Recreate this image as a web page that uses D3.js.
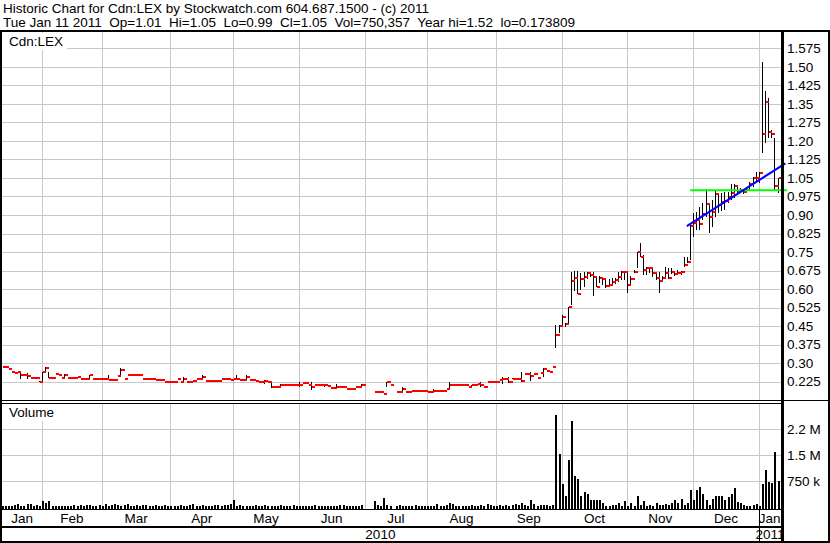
<!DOCTYPE html>
<html><head><meta charset="utf-8">
<script src="https://cdn.jsdelivr.net/npm/d3@7"></script>
<style>
body{margin:0;background:#fff}
svg{display:block}
text{font-family:Arial,"Liberation Sans",sans-serif;font-size:13.5px;fill:#000}
</style>
</head><body>
<svg id="c" width="830" height="543"></svg>
<script>
// ---------------- data ----------------
const titleLine1 = "Historic Chart for Cdn:LEX by Stockwatch.com 604.687.1500 - (c) 2011";
const titleLine2 = "Tue Jan 11 2011  Op=1.01  Hi=1.05  Lo=0.99  Cl=1.05  Vol=750,357  Year hi=1.52  lo=0.173809";
const symbolLabel = "Cdn:LEX";
const volumeLabel = "Volume";

const monthLabels = ["Jan","Feb","Mar","Apr","May","Jun","Jul","Aug","Sep","Oct","Nov","Dec","Jan"];
const monthBars   = [13,19,22,20,21,21,20,22,21,21,21,21,7];
const yearLabels  = ["2010","2011"];
const yearMonths  = [12,1];

const closes = [
 0.286,0.286,0.277,0.263,0.259,0.266,0.252,0.252,0.247,0.240,0.240,0.240,0.222,
 0.266,0.279,0.240,0.240,0.257,0.252,0.240,0.252,0.240,0.240,0.240,0.243,0.236,0.236,0.236,0.252,0.236,0.236,0.236,
 0.236,0.236,0.232,0.232,0.232,0.247,0.272,0.236,0.252,0.252,0.252,0.252,0.252,0.236,0.236,0.236,0.236,0.232,0.232,0.232,0.222,0.222,
 0.222,0.222,0.236,0.222,0.236,0.222,0.222,0.228,0.236,0.236,0.243,0.228,0.228,0.228,0.228,0.228,0.236,0.236,0.236,0.230,
 0.236,0.236,0.232,0.232,0.243,0.232,0.232,0.226,0.222,0.222,0.226,0.222,0.205,0.205,0.205,0.213,0.213,0.213,0.213,0.213,0.213,
 0.211,0.221,0.221,0.213,0.202,0.213,0.213,0.213,0.211,0.206,0.200,0.198,0.205,0.202,0.202,0.195,0.195,0.195,0.202,0.202,0.211,
 null,null,null,0.184,0.184,0.184,0.174,0.222,0.213,null,0.184,0.184,0.195,0.184,0.184,0.186,0.186,0.186,0.186,0.186,
 0.184,0.184,0.186,0.186,0.186,0.186,0.195,0.211,0.211,0.211,0.213,0.213,0.211,0.202,0.213,0.213,0.217,0.213,0.205,0.225,0.225,0.225,
 0.225,0.230,0.236,0.236,0.222,0.236,0.236,0.236,0.228,0.257,0.257,0.247,0.257,0.240,0.262,0.277,0.270,0.263,0.283,0.414,0.450,
 0.488,0.459,0.526,0.634,0.643,0.580,0.640,0.650,0.664,0.656,0.650,0.610,0.645,0.640,0.612,0.617,0.627,0.636,0.650,0.669,0.669,
 0.617,0.641,0.670,0.749,0.729,0.677,0.687,0.685,0.664,0.643,0.634,0.643,0.664,0.645,0.668,0.660,0.664,0.668,0.697,0.711,0.855,
 0.866,0.880,0.862,0.904,0.945,0.893,0.913,0.985,0.940,0.953,0.958,0.971,0.990,1.017,0.998,1.000,0.995,1.000,1.025,1.050,1.049,
 1.071,1.228,1.359,1.237,1.228,1.017,1.050
];
const highs = [
 0.286,0.286,0.277,0.263,0.259,0.266,0.259,0.252,0.259,0.240,0.240,0.240,0.226,
 0.266,0.286,0.263,0.240,0.257,0.252,0.240,0.257,0.240,0.240,0.240,0.243,0.236,0.236,0.236,0.252,0.236,0.236,0.236,
 0.236,0.236,0.252,0.232,0.232,0.247,0.279,0.236,0.252,0.252,0.252,0.252,0.252,0.236,0.236,0.236,0.236,0.232,0.232,0.232,0.222,0.222,
 0.222,0.222,0.236,0.222,0.243,0.222,0.222,0.228,0.236,0.236,0.252,0.228,0.228,0.228,0.228,0.228,0.236,0.236,0.236,0.230,
 0.236,0.252,0.232,0.232,0.252,0.232,0.232,0.226,0.222,0.222,0.232,0.222,0.222,0.205,0.205,0.215,0.213,0.213,0.213,0.213,0.213,
 0.222,0.221,0.221,0.213,0.222,0.213,0.213,0.213,0.213,0.206,0.200,0.198,0.215,0.202,0.202,0.195,0.195,0.195,0.202,0.202,0.215,
 null,null,null,0.184,0.184,0.184,0.174,0.225,0.213,null,0.184,0.184,0.205,0.184,0.184,0.186,0.186,0.186,0.186,0.186,
 0.184,0.184,0.195,0.186,0.186,0.186,0.195,0.222,0.211,0.211,0.213,0.213,0.211,0.202,0.213,0.213,0.217,0.225,0.205,0.225,0.225,0.225,
 0.225,0.230,0.245,0.236,0.245,0.240,0.236,0.236,0.266,0.257,0.257,0.266,0.257,0.240,0.262,0.279,0.270,0.263,0.283,0.454,0.454,
 0.494,0.462,0.529,0.670,0.674,0.674,0.664,0.670,0.670,0.660,0.670,0.650,0.653,0.643,0.640,0.640,0.643,0.643,0.670,0.674,0.674,
 0.670,0.653,0.677,0.751,0.785,0.738,0.691,0.691,0.684,0.664,0.670,0.653,0.691,0.684,0.687,0.674,0.677,0.674,0.729,0.729,0.860,
 0.907,0.913,0.934,0.947,1.004,0.940,0.961,0.999,0.981,0.990,0.994,0.994,1.025,1.025,1.021,1.010,1.005,1.005,1.035,1.055,1.075,
 1.075,1.520,1.403,1.374,1.245,1.210,1.050
];
const lows = [
 0.286,0.286,0.277,0.263,0.259,0.266,0.236,0.252,0.236,0.240,0.240,0.236,0.222,
 0.222,0.266,0.240,0.240,0.257,0.252,0.240,0.240,0.240,0.240,0.240,0.243,0.236,0.236,0.236,0.236,0.236,0.236,0.236,
 0.236,0.236,0.232,0.232,0.232,0.247,0.247,0.236,0.252,0.252,0.252,0.252,0.252,0.236,0.236,0.236,0.236,0.232,0.232,0.232,0.222,0.222,
 0.222,0.222,0.236,0.222,0.226,0.222,0.222,0.228,0.236,0.236,0.236,0.228,0.228,0.228,0.228,0.222,0.236,0.236,0.236,0.230,
 0.236,0.232,0.232,0.232,0.232,0.232,0.232,0.226,0.222,0.222,0.215,0.222,0.198,0.205,0.205,0.205,0.213,0.213,0.213,0.213,0.213,
 0.205,0.221,0.221,0.213,0.190,0.213,0.213,0.213,0.205,0.206,0.200,0.198,0.200,0.202,0.202,0.195,0.195,0.195,0.202,0.202,0.205,
 null,null,null,0.184,0.184,0.184,0.174,0.202,0.213,null,0.184,0.184,0.184,0.184,0.184,0.186,0.186,0.186,0.186,0.186,
 0.184,0.184,0.184,0.186,0.186,0.186,0.195,0.190,0.211,0.211,0.213,0.213,0.211,0.202,0.198,0.213,0.217,0.205,0.205,0.225,0.225,0.225,
 0.225,0.230,0.216,0.236,0.220,0.236,0.236,0.236,0.225,0.257,0.257,0.228,0.257,0.240,0.262,0.245,0.270,0.263,0.283,0.360,0.421,
 0.447,0.447,0.462,0.535,0.594,0.580,0.596,0.610,0.640,0.650,0.572,0.610,0.624,0.617,0.605,0.610,0.617,0.620,0.630,0.636,0.636,
 0.583,0.620,0.667,0.684,0.729,0.657,0.657,0.665,0.650,0.636,0.583,0.630,0.644,0.640,0.660,0.653,0.660,0.657,0.691,0.704,0.718,
 0.812,0.839,0.839,0.880,0.893,0.826,0.853,0.893,0.907,0.915,0.920,0.947,0.961,0.968,0.990,0.990,0.985,0.990,1.000,1.015,1.035,
 1.030,1.150,1.190,1.210,1.210,1.000,0.990
];
const volumes = [
 30,20,40,20,60,100,40,30,80,90,40,60,20,
 170,120,180,40,30,20,40,30,20,20,60,30,50,40,60,70,30,40,60,
 40,90,30,60,80,60,40,50,90,30,40,60,20,50,70,30,40,60,40,20,50,30,
 20,40,30,60,20,30,50,90,20,30,60,40,30,20,50,60,40,70,60,90,
 200,40,60,30,30,20,40,50,20,30,60,20,40,30,20,60,40,30,20,50,40,
 30,20,40,20,30,60,30,20,40,30,20,20,30,60,50,30,40,20,30,40,50,
 0,0,0,160,60,20,260,70,40,0,40,60,30,20,40,30,50,40,30,20,
 30,40,20,80,40,30,70,120,90,40,30,20,40,30,60,40,30,50,40,80,60,30,
 40,60,30,50,40,70,90,60,120,60,40,200,80,40,60,60,50,40,50,2650,1530,
 663,317,1360,2480,894,800,317,433,375,200,200,200,200,107,29,29,45,45,124,20,182,
 15,124,29,317,45,182,29,45,29,107,45,45,80,45,107,200,124,240,45,124,490,
 200,490,586,375,200,60,240,317,317,317,200,300,375,548,150,120,60,30,20,50,80,
 30,663,1070,730,683,1600,750
].map(v => v * 1000);

const priceTicks = [0.225,0.30,0.375,0.45,0.525,0.60,0.675,0.75,0.825,0.90,0.975,1.05,1.125,1.20,1.275,1.35,1.425,1.50,1.575];
const priceTickLabels = ["0.225","0.30","0.375","0.45","0.525","0.60","0.675","0.75","0.825","0.90","0.975","1.05","1.125","1.20","1.275","1.35","1.425","1.50","1.575"];
const volumeTicks = [750000,1500000,2250000];
const volumeTickLabels = ["750 k","1.5 M","2.2 M"];

// trend lines: [bar index, price]
const blueTrend  = [[219.0,0.855],[250.5,1.109]];
const greenLevel = [[220.1,1.000],[251.0,1.000]];

// ---------------- layout ----------------
const svg = d3.select("#c");
const N = closes.length;
const L = 2, R = 781;
const pTop = 32, pBot = 400, vTop = 403, vBot = 509;

const x = d3.scaleLinear().domain([0, N]).range([1.5, 780.7]);
const y = d3.scaleLinear().domain([0.151, 1.641]).range([pBot, pTop]);
const yV = d3.scaleLinear().domain([0, 3000000]).range([507, vTop]);

svg.append("rect").attr("width",830).attr("height",543).attr("fill","#fff");

const monthStart = [];
let acc = 0;
monthBars.forEach(n => { monthStart.push(acc); acc += n; });

const grid = svg.append("g").attr("stroke","#c8c8c8").attr("stroke-width",1).attr("shape-rendering","crispEdges");
grid.selectAll(".hp").data(priceTicks).join("line").attr("class","hp")
  .attr("x1",L).attr("x2",R).attr("y1",d=>Math.round(y(d))+0.5).attr("y2",d=>Math.round(y(d))+0.5);
grid.selectAll(".hv").data(volumeTicks).join("line").attr("class","hv")
  .attr("x1",L).attr("x2",R).attr("y1",d=>Math.round(yV(d))+0.5).attr("y2",d=>Math.round(yV(d))+0.5);
const mg = monthStart.slice(1);
grid.selectAll(".vp").data(mg).join("line").attr("class","vp")
  .attr("x1",d=>Math.round(x(d))+0.5).attr("x2",d=>Math.round(x(d))+0.5).attr("y1",pTop).attr("y2",pBot);
grid.selectAll(".vv").data(mg).join("line").attr("class","vv")
  .attr("x1",d=>Math.round(x(d))+0.5).attr("x2",d=>Math.round(x(d))+0.5).attr("y1",vTop).attr("y2",vBot);

function panelLabel(txt, tx, ty){
  const g = svg.append("g");
  const t = g.append("text").attr("x",tx).attr("y",ty).text(txt);
  const bb = t.node().getBBox();
  g.insert("rect","text").attr("x",L).attr("y",bb.y-1).attr("width",bb.x+bb.width+4-L).attr("height",bb.height+2).attr("fill","#fff");
}
panelLabel(symbolLabel, 9, 46);
panelLabel(volumeLabel, 9, 417);

// price bars
const bars = d3.range(N).filter(i => closes[i] !== null);
svg.append("g").attr("shape-rendering","crispEdges").selectAll("rect").data(bars).join("rect")
  .attr("x", i => Math.round(x(i))).attr("width", 1)
  .attr("y", i => y(highs[i])).attr("height", i => Math.max(0, y(lows[i]) - y(highs[i])))
  .attr("fill","#000");
svg.append("g").attr("shape-rendering","crispEdges").selectAll("rect").data(bars).join("rect")
  .attr("x", i => Math.round(x(i)) + 1).attr("width", i => Math.round(x(i+1)) + 1 - (Math.round(x(i)) + 1))
  .attr("y", i => Math.round(y(closes[i])) - 1).attr("height", 2)
  .attr("fill","#ff0000");

// volume bars
svg.append("g").attr("shape-rendering","crispEdges").selectAll("rect").data(d3.range(N).filter(i => volumes[i] > 0)).join("rect")
  .attr("x", i => Math.round(x(i))).attr("width", 2)
  .attr("y", i => Math.round(yV(volumes[i]))).attr("height", i => vBot - Math.round(yV(volumes[i])))
  .attr("fill","#000");

// trend lines
const tl = d3.line().x(d => x(d[0])).y(d => y(d[1]));
svg.append("path").attr("d", tl(greenLevel)).attr("stroke","#00ff00").attr("stroke-width",2).attr("fill","none");
svg.append("path").attr("d", tl(blueTrend)).attr("stroke","#0000ff").attr("stroke-width",2).attr("fill","none");

// frame lines
const fr = svg.append("g").attr("stroke","#000").attr("shape-rendering","crispEdges").attr("fill","none");
function hl(x1,x2,yy,w){ fr.append("line").attr("x1",x1).attr("x2",x2).attr("y1",yy).attr("y2",yy).attr("stroke-width",w); }
function vl(xx,y1,y2,w){ fr.append("line").attr("x1",xx).attr("x2",xx).attr("y1",y1).attr("y2",y2).attr("stroke-width",w); }
hl(0,830,31,2);
hl(0,830,400.5,1);
hl(0,R,403,1);
hl(0,R,509.5,1);
hl(0,R,527,2);
hl(0,830,542,2);
vl(1,31,543,2);
vl(829,31,543,2);
vl(782,31,543,3);
vl(Math.round(x(monthStart[12]))+0.5,509,541,1);

// title
svg.append("text").attr("x",3).attr("y",13).text(titleLine1);
svg.append("text").attr("x",3).attr("y",27).attr("xml:space","preserve").style("white-space","pre").text(titleLine2);

// right axis labels
svg.append("g").selectAll("text").data(priceTicks).join("text")
  .attr("x",787).attr("y",d=>y(d)).attr("dy","0.35em").text((d,i)=>priceTickLabels[i]);
svg.append("g").selectAll("text").data(volumeTicks).join("text")
  .attr("x",787).attr("y",d=>yV(d)).attr("dy","0.35em").text((d,i)=>volumeTickLabels[i]);

// month labels
svg.append("g").selectAll("text").data(monthLabels).join("text")
  .attr("text-anchor","middle")
  .attr("x",(d,i)=>{ const a = i===0 ? L : x(monthStart[i]); const b = x(monthStart[i]+monthBars[i]); return (a+Math.min(b,R))/2; })
  .attr("y",523).text(d=>d);
let ms = 0;
yearLabels.forEach((yl,k)=>{
  const a = ms===0 ? L : x(monthStart[ms]);
  const endM = ms + yearMonths[k];
  const b = endM >= monthStart.length ? R : x(monthStart[endM]);
  svg.append("text").attr("text-anchor","middle").attr("x",(a+b)/2).attr("y",539).text(yl);
  ms = endM;
});
</script>
</body></html>
